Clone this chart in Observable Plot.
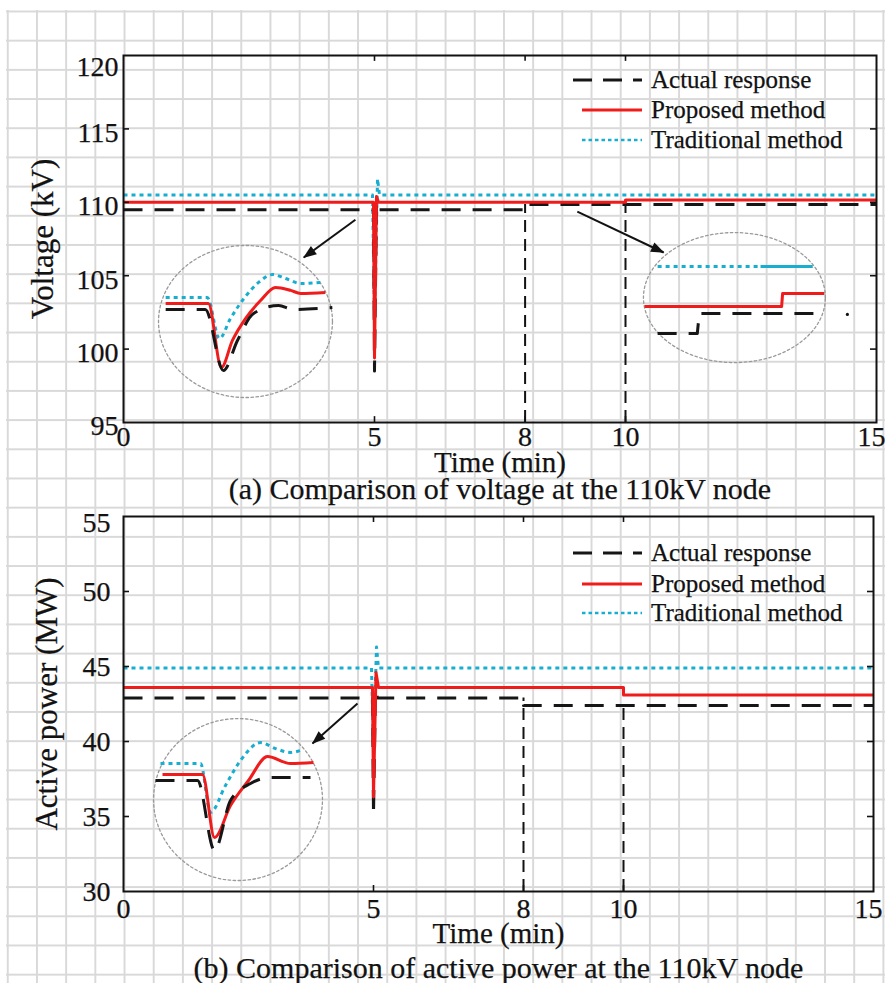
<!DOCTYPE html>
<html><head><meta charset="utf-8">
<script src="https://cdn.jsdelivr.net/npm/d3@7"></script>
<script src="https://cdn.jsdelivr.net/npm/@observablehq/plot@0.6"></script>
<style>
html,body{margin:0;padding:0;background:#fff;}
#page{position:relative;width:885px;height:983px;overflow:hidden;font-family:"Liberation Serif","Times New Roman",serif;color:#151515;}
#grid{position:absolute;left:6px;top:10px;right:0;bottom:0;
 background-image:linear-gradient(to right,#d9d9d9 1.6px,transparent 1.6px),linear-gradient(to bottom,#d9d9d9 1.6px,transparent 1.6px);
 background-size:29.2px 29.2px;background-position:0.8px 0.5px;}
.panel{position:absolute;left:0;}
#legend{position:absolute;left:0;top:0;pointer-events:none;}
</style></head>
<body><div id="page"><div id="grid"></div></div>
<script>
// ---- series styling / names ----
const seriesNames = ["Actual response", "Proposed method", "Traditional method"];
const seriesColors = ["#161616", "#f01c1c", "#18aed0"];
const seriesDash = ["19,12", null, "4,4"];

// ---- axes ----
const xTicks = [0, 5, 8, 10, 15];
const voltTicks = [95, 100, 105, 110, 115, 120];
const powerTicks = [30, 35, 40, 45, 50, 55];
const eventTimes = [8, 10];

// ---- (a) voltage, main curves ----
const voltActualT = [0, 4.98, 5.00, 5.04, 5.08, 8.00, 8.00, 15];
const voltActualV = [109.5, 109.5, 98.5, 110.0, 109.5, 109.5, 109.85, 109.85];
const voltPropT = [0, 4.98, 5.00, 5.04, 5.08, 10.00, 10.00, 15];
const voltPropV = [110.0, 110.0, 99.4, 110.4, 110.0, 110.0, 110.15, 110.15];
const voltTradT = [0, 4.96, 5.00, 5.06, 5.10, 15];
const voltTradV = [110.5, 110.5, 102.2, 111.6, 110.5, 110.5];
const voltEventLevels = [109.85, 109.85];

// ---- (a) inset 1 (zoom of the disturbance at 5 min) ----
const vIn1ActT = [0.84, 1.63, 1.99, 2.27, 2.59, 3.09, 3.37, 4.16];
const vIn1ActV = [102.70, 102.70, 98.54, 100.59, 102.43, 102.97, 102.70, 102.83];
const vIn1PropT = [0.84, 1.69, 1.95, 2.17, 2.43, 2.73, 3.03, 3.33, 3.53, 4.02];
const vIn1PropV = [103.11, 103.11, 98.75, 100.59, 102.08, 103.31, 104.20, 104.0, 103.79, 103.86];
const vIn1TradT = [0.84, 1.67, 1.91, 2.13, 2.43, 2.69, 2.97, 3.23, 3.53, 3.92];
const vIn1TradV = [103.51, 103.51, 100.72, 102.08, 103.58, 104.54, 105.08, 104.81, 104.47, 104.54];
// ---- (a) inset 2 (zoom of the steps at 8 / 10 min) ----
const vIn2ActT = [10.64, 11.43, 11.47, 13.92];
const vIn2ActV = [101.06, 101.06, 102.43, 102.43];
const vIn2PropT = [10.38, 13.11, 13.13, 13.96];
const vIn2PropV = [102.90, 102.90, 103.79, 103.79];
const vIn2TradDotT = [10.64, 12.69];
const vIn2TradDotV = [105.63, 105.63];
const vIn2TradSolidT = [12.69, 13.73];
const vIn2TradSolidV = [105.63, 105.63];
const vIn2Speck = [{t: 14.42, v: 102.36}];
// inset ellipses: [centre t, centre v, radius t, radius v]
const voltEllipses = [[2.43, 101.88, 1.733, 5.18], [12.17, 103.51, 1.813, 4.43]];
// arrows: [t1, v1, t2, v2]
const voltArrows = [[4.62, 108.81, 3.59, 106.24], [9.04, 109.37, 10.76, 106.58]];

// ---- (b) active power, main curves ----
const powActualT = [0, 4.98, 5.00, 5.04, 5.08, 8.00, 8.00, 15];
const powActualV = [42.9, 42.9, 35.1, 43.4, 42.9, 42.9, 42.4, 42.4];
const powPropT = [0, 4.98, 5.00, 5.05, 5.10, 10.00, 10.00, 15];
const powPropV = [43.6, 43.6, 36.3, 44.6, 43.6, 43.6, 43.1, 43.1];
const powTradT = [0, 4.96, 5.00, 5.06, 5.10, 15];
const powTradV = [44.9, 44.9, 39.4, 46.3, 44.9, 44.9];
const powEventLevels = [42.9, 42.4];
// ---- (b) inset ----
const pInActT = [0.64, 1.48, 1.82, 2.14, 2.54, 2.94, 3.74];
const pInActV = [37.4, 37.4, 32.73, 36.07, 37.2, 37.6, 37.6];
const pInPropT = [0.78, 1.58, 1.82, 2.14, 2.50, 2.88, 3.34, 3.80];
const pInPropV = [37.8, 37.8, 33.6, 35.73, 37.4, 39.0, 38.53, 38.6];
const pInTradT = [0.74, 1.54, 1.74, 2.04, 2.34, 2.74, 3.04, 3.34, 3.54];
const pInTradV = [38.53, 38.53, 35.27, 37.07, 38.73, 39.93, 39.53, 39.27, 39.40];
const powEllipses = [[2.29, 36.13, 1.69, 5.4]];
const powArrows = [[4.68, 42.53, 3.78, 39.87]];

// ---- helpers ----
const rows = (ts, vs) => ts.map((t, i) => ({t, v: vs[i]}));
function ellipsePts(list) {
  const out = [];
  list.forEach(([cx, cy, rx, ry], id) => {
    for (let i = 0; i <= 90; i++) {
      const a = i / 90 * 2 * Math.PI;
      out.push({id, t: cx + rx * Math.cos(a), v: cy + ry * Math.sin(a)});
    }
  });
  return out;
}
const ink = "#121212";
const W = 3;
const FONT = '"Liberation Serif","Times New Roman",serif';

function seriesLine(data, k, extra = {}) {
  return Plot.line(data, {x: "t", y: "v", stroke: seriesColors[k], strokeWidth: W,
    strokeDasharray: seriesDash[k], strokeLinecap: "butt", strokeLinejoin: "round", ...extra});
}

function makePanel(cfg) {
  const [y0, y1] = cfg.yDomain;
  const txt = {fill: ink, stroke: ink, strokeWidth: 0.25};
  const marks = [
    Plot.line(ellipsePts(cfg.ellipses), {x: "t", y: "v", z: "id", stroke: "#9a9a9a", strokeWidth: 1.3, strokeDasharray: "2.5,2.5"}),
    Plot.ruleX(eventTimes, {x: d => d, y1: y0, y2: (d, i) => cfg.eventLevels[i], stroke: ink, strokeWidth: 2, strokeDasharray: "12,7"}),
    ...cfg.lines.map(([data, k, extra]) => seriesLine(data, k, extra)),
    Plot.link(cfg.arrows, {x1: d => d[0], y1: d => d[1], x2: d => d[2], y2: d => d[3], stroke: ink, strokeWidth: 2, markerEnd: "arrow"}),
    Plot.frame({stroke: ink, strokeWidth: 2}),
    // inward ticks
    Plot.ruleY(cfg.yTicks.slice(1, -1), {y: d => d, x1: 0, x2: cfg.tickLenX, stroke: ink, strokeWidth: 1.6}),
    Plot.ruleY(cfg.yTicks.slice(1, -1), {y: d => d, x1: 15 - cfg.tickLenX, x2: 15, stroke: ink, strokeWidth: 1.6}),
    Plot.ruleX(xTicks.slice(1, -1), {x: d => d, y1: y1 - cfg.tickLenY, y2: y1, stroke: ink, strokeWidth: 1.6}),
    Plot.ruleX(xTicks.slice(1, -1), {x: d => d, y1: y0, y2: y0 + cfg.tickLenY, stroke: ink, strokeWidth: 1.6}),
    // tick labels
    Plot.text(cfg.yTicks.slice(0, -1), {y: d => d, text: d => String(d), frameAnchor: "left", dx: cfg.yLabDx, dy: cfg.yLabDy, textAnchor: "end", fontSize: 28, ...txt}),
    Plot.text(cfg.yTicks.slice(-1), {y: d => d, text: d => String(d), frameAnchor: "left", dx: cfg.yLabDx, dy: cfg.yTopDy, textAnchor: "end", fontSize: 28, ...txt}),
    Plot.text(xTicks.slice(0, -1), {x: d => d, text: d => String(d), frameAnchor: "bottom", lineAnchor: "bottom", dy: cfg.tickDy, fontSize: 28, ...txt}),
    Plot.text(xTicks.slice(-1), {x: d => d, text: d => String(d), frameAnchor: "bottom", lineAnchor: "bottom", dx: -5, dy: cfg.tickDy, fontSize: 28, ...txt}),
    Plot.text(["Time (min)"], {text: d => d, frameAnchor: "bottom", lineAnchor: "bottom", dy: cfg.titleDy, fontSize: 29, ...txt}),
    Plot.text([cfg.caption], {text: d => d, frameAnchor: "bottom", lineAnchor: "bottom", dy: cfg.captionDy, fontSize: 30, ...txt}),
    Plot.text([cfg.yTitle], {text: d => d, frameAnchor: "left", textAnchor: "middle", dx: cfg.yTitleDx, rotate: -90, fontSize: 31, ...txt})
  ];
  if (cfg.specks) marks.push(Plot.dot(cfg.specks, {x: "t", y: "v", r: 1.6, fill: ink}));
  const svg = Plot.plot({
    width: 885, height: cfg.height,
    marginLeft: 123, marginRight: cfg.mr, marginTop: cfg.mt, marginBottom: cfg.mb,
    x: {domain: [0, 15], axis: null},
    y: {domain: cfg.yDomain, axis: null},
    style: {background: "transparent", overflow: "visible", fontFamily: FONT},
    marks
  });
  // filled arrow heads
  svg.querySelectorAll("marker").forEach(m => {
    m.setAttribute("viewBox", "-10 -5 11 10");
    m.setAttribute("markerWidth", "7.3");
    m.setAttribute("markerHeight", "6.67");
    m.setAttribute("fill", ink);
    m.setAttribute("stroke", "none");
    const p = m.querySelector("path");
    if (p) p.setAttribute("d", "M-9.5,-3.8L0.6,0L-9.5,3.8Z");
  });
  svg.classList.add("panel");
  svg.style.top = cfg.top + "px";
  return svg;
}

const page = document.getElementById("page");
const smooth = {curve: "monotone-x"};

page.appendChild(makePanel({
  top: 0, height: 500, mt: 55, mb: 78, mr: 9,
  yDomain: [95, 120], yTicks: voltTicks, tickLenX: 0.12, tickLenY: 0.4,
  yLabDx: -5, yLabDy: 4, yTopDy: 12, tickDy: 23, titleDy: 49, captionDy: 76, yTitleDx: -80,
  yTitle: "Voltage (kV)", caption: "(a) Comparison of voltage at the 110kV node",
  eventLevels: voltEventLevels, ellipses: voltEllipses, arrows: voltArrows, specks: vIn2Speck,
  lines: [
    [rows(voltTradT, voltTradV), 2], [rows(voltActualT, voltActualV), 0], [rows(voltPropT, voltPropV), 1],
    [rows(vIn1TradT, vIn1TradV), 2, smooth], [rows(vIn1PropT, vIn1PropV), 1, smooth], [rows(vIn1ActT, vIn1ActV), 0, smooth],
    [rows(vIn2TradDotT, vIn2TradDotV), 2], [rows(vIn2TradSolidT, vIn2TradSolidV), 2, {strokeDasharray: null}],
    [rows(vIn2PropT, vIn2PropV), 1], [rows(vIn2ActT, vIn2ActV), 0]
  ]
}));

page.appendChild(makePanel({
  top: 490, height: 493, mt: 26, mb: 92, mr: 12,
  yDomain: [30, 55], yTicks: powerTicks, tickLenX: 0.12, tickLenY: 0.4,
  yLabDx: -13, yLabDy: 1, yTopDy: 7, tickDy: 26, titleDy: 51, captionDy: 86, yTitleDx: -76,
  yTitle: "Active power (MW)", caption: "(b) Comparison of active power at the 110kV node",
  eventLevels: powEventLevels, ellipses: powEllipses, arrows: powArrows,
  lines: [
    [rows(powTradT, powTradV), 2], [rows(powActualT, powActualV), 0], [rows(powPropT, powPropV), 1],
    [rows(pInTradT, pInTradV), 2, smooth], [rows(pInPropT, pInPropV), 1, smooth], [rows(pInActT, pInActV), 0, smooth]
  ]
}));

// ---- legends (one per panel) ----
const legendRowsA = [80, 110, 140];
const legendRowsB = [553, 584, 613];
const NS = "http://www.w3.org/2000/svg";
const leg = document.createElementNS(NS, "svg");
leg.setAttribute("id", "legend");
leg.setAttribute("width", 885); leg.setAttribute("height", 983);
[legendRowsA, legendRowsB].forEach(ys => {
  ys.forEach((y, k) => {
    const l = document.createElementNS(NS, "line");
    l.setAttribute("x1", k === 0 ? 573 : 582); l.setAttribute("x2", 642);
    l.setAttribute("y1", y); l.setAttribute("y2", y);
    l.setAttribute("stroke", seriesColors[k]); l.setAttribute("stroke-width", k === 2 ? 2.5 : 3);
    if (seriesDash[k]) l.setAttribute("stroke-dasharray", k === 0 ? "19,11" : "3.5,3");
    leg.appendChild(l);
    const t = document.createElementNS(NS, "text");
    t.setAttribute("x", 651); t.setAttribute("y", y + 7.5);
    t.setAttribute("font-size", 25);
    t.setAttribute("font-family", FONT);
    t.setAttribute("fill", ink); t.setAttribute("stroke", ink); t.setAttribute("stroke-width", 0.25);
    t.textContent = seriesNames[k];
    leg.appendChild(t);
  });
});
page.appendChild(leg);
</script></body></html>
